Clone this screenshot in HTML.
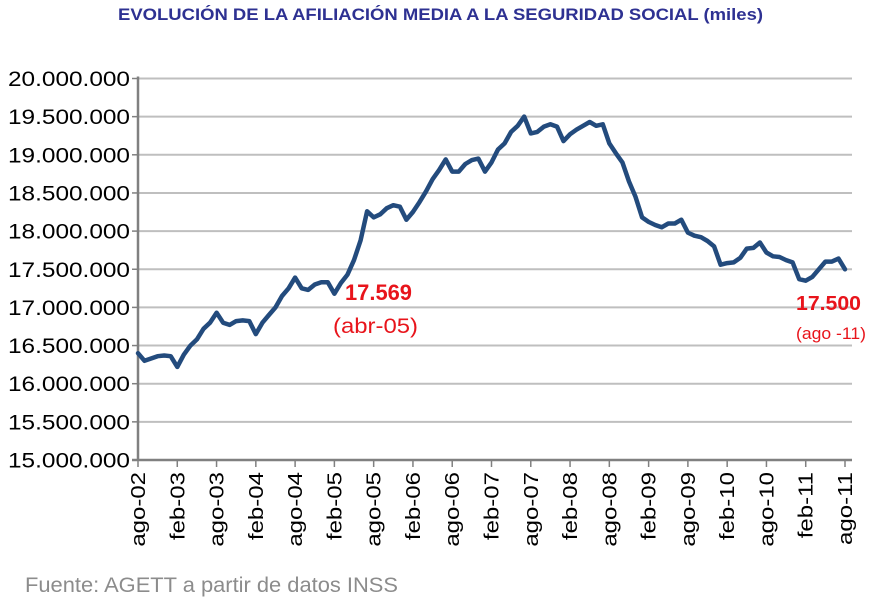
<!DOCTYPE html>
<html><head><meta charset="utf-8"><style>
html,body{margin:0;padding:0;background:#fff;}
svg{display:block;font-family:"Liberation Sans",sans-serif;}
</style></head><body>
<svg id="chart" width="882" height="599" viewBox="0 0 882 599">
<text x="118" y="20" textLength="645" lengthAdjust="spacingAndGlyphs" font-size="17" font-weight="bold" fill="#2e3192">EVOLUCIÓN DE LA AFILIACIÓN MEDIA A LA SEGURIDAD SOCIAL (miles)</text>
<g id="grid"></g><g id="yticks"></g><g id="xticks"></g><g id="series"></g>
<text x="345" y="300" textLength="67" lengthAdjust="spacingAndGlyphs" font-size="22" font-weight="bold" fill="#e8141b">17.569</text>
<text x="333" y="333" textLength="85" lengthAdjust="spacingAndGlyphs" font-size="21" fill="#e8141b">(abr-05)</text>
<text x="796" y="310" textLength="65" lengthAdjust="spacingAndGlyphs" font-size="20" font-weight="bold" fill="#e8141b">17.500</text>
<text x="796" y="339" textLength="70" lengthAdjust="spacingAndGlyphs" font-size="17" fill="#e8141b">(ago -11)</text>
<text x="25" y="592" textLength="373" lengthAdjust="spacingAndGlyphs" font-size="21" fill="#8c8c8c">Fuente: AGETT a partir de datos INSS</text>
</svg>
<script>
const yTicks=[15,15.5,16,16.5,17,17.5,18,18.5,19,19.5,20];
const yTickLabels=["15.000.000","15.500.000","16.000.000","16.500.000","17.000.000","17.500.000","18.000.000","18.500.000","19.000.000","19.500.000","20.000.000"];
const xTickLabels=["ago-02","feb-03","ago-03","feb-04","ago-04","feb-05","ago-05","feb-06","ago-06","feb-07","ago-07","feb-08","ago-08","feb-09","ago-09","feb-10","ago-10","feb-11","ago-11"];
const values=[16.40,16.30,16.33,16.36,16.37,16.36,16.22,16.38,16.50,16.58,16.72,16.80,
16.93,16.80,16.77,16.82,16.83,16.82,16.65,16.80,16.90,17.00,17.15,17.25,
17.39,17.25,17.23,17.30,17.33,17.33,17.18,17.32,17.43,17.62,17.88,18.26,
18.18,18.22,18.30,18.34,18.32,18.15,18.25,18.38,18.52,18.68,18.80,18.94,
18.78,18.78,18.88,18.93,18.95,18.78,18.90,19.07,19.15,19.30,19.38,19.50,
19.28,19.30,19.37,19.40,19.37,19.18,19.27,19.33,19.38,19.43,19.38,19.40,
19.15,19.02,18.90,18.65,18.45,18.18,18.12,18.08,18.05,18.10,18.10,18.15,
17.98,17.94,17.92,17.87,17.80,17.56,17.58,17.59,17.65,17.77,17.78,17.85,
17.72,17.67,17.66,17.62,17.59,17.37,17.35,17.40,17.50,17.60,17.60,17.64,17.50];
const NS="http://www.w3.org/2000/svg";
const X0=138,X1=845,Y0=460,Y1=78.5;
const n=values.length;
function xs(i){return X0+(X1-X0)*i/(n-1);}
function ys(v){return Y0-(v-15)/(20-15)*(Y0-Y1);}
function mk(t,a,p){const e=document.createElementNS(NS,t);for(const k in a)e.setAttribute(k,a[k]);p.appendChild(e);return e;}
const grid=document.getElementById('grid'),yt=document.getElementById('yticks'),xt=document.getElementById('xticks'),ser=document.getElementById('series');
yTicks.forEach((v,i)=>{
 if(i>0){const l=mk('line',{x1:X0,x2:852,y1:ys(v),y2:ys(v),stroke:'#bfbfbf','stroke-width':2},grid);
 
 }
 const tk=mk('line',{x1:X0-6,x2:X0,y1:ys(v),y2:ys(v),stroke:'#808080','stroke-width':1.5},yt);
 
 
 const t=mk('text',{x:8,y:ys(v)+7.5,textLength:122,lengthAdjust:'spacingAndGlyphs','font-size':21,fill:'#000'},yt);
 t.textContent=yTickLabels[i];
 
 
});
const ya=mk('line',{x1:X0,x2:X0,y1:Y1-2,y2:Y0,stroke:'#808080','stroke-width':2.5},yt);


const xa=mk('line',{x1:X0-6,x2:852,y1:Y0,y2:Y0,stroke:'#808080','stroke-width':2.5},xt);


xTickLabels.forEach((s,k)=>{
 const x=xs(k*6);
 const tk=mk('line',{x1:x,x2:x,y1:Y0,y2:Y0+7,stroke:'#808080','stroke-width':1.5},xt);
 
 
 const t=mk('text',{x:0,y:0,'text-anchor':'end','font-size':20,fill:'#000',transform:`translate(${x+7},472) rotate(-90)`},xt);
 t.textContent=s;
 
 
 const L=t.getComputedTextLength();
 if(L>0){t.setAttribute('textLength',(L*1.2).toFixed(1));t.setAttribute('lengthAdjust','spacingAndGlyphs');}
});
const d=values.map((v,i)=>(i?'L':'M')+xs(i).toFixed(1)+','+ys(v).toFixed(1)).join(' ');
const p=mk('path',{d:d,fill:'none',stroke:'#234b7d','stroke-width':4.5,'stroke-linejoin':'round','stroke-linecap':'round'},ser);


</script>
</body></html>
